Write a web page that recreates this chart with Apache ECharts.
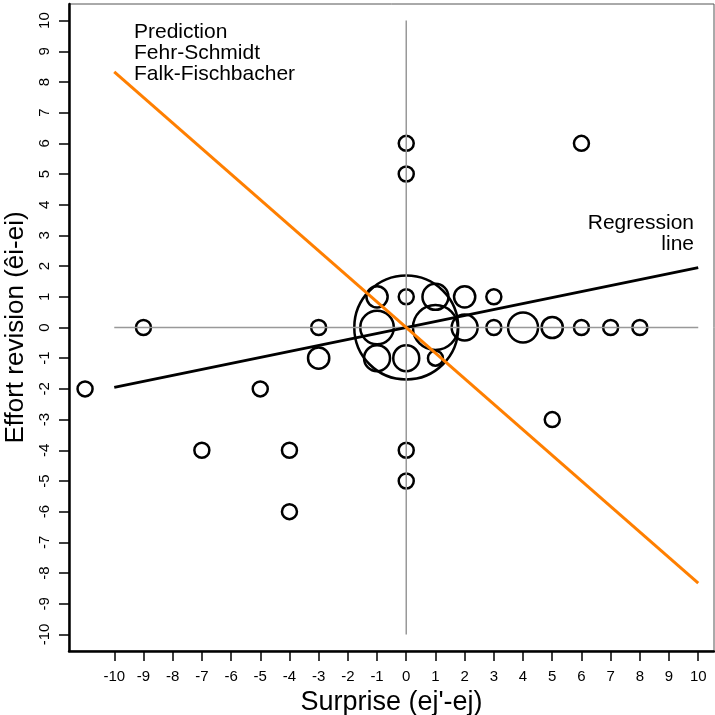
<!DOCTYPE html>
<html>
<head>
<meta charset="utf-8">
<script src="https://cdn.jsdelivr.net/npm/echarts@6/dist/echarts.min.js"></script>
<style>
  html, body { margin: 0; padding: 0; background: #fff; }
  #chartBox { width: 715px; height: 715px; }
</style>
</head>
<body>
<div id="chartBox"></div>
<script>
// observations: surprise (x), effort revision (y), number of cases at that point
const surprise = [0, 1, -1, 4, 1, 2, -1, 0, 2, 5, -1, -3,
  -11, -9, -7, -5, -4, -4, -3, 0, 0, 6, 5, 0, 0, 3, 3, 6, 7, 8, 0, 1];
const revision = [0, 0, 0, 0, 1, 0, -1, -1, 1, 0, 1, -1,
  -2, 0, -4, -2, -4, -6, 0, 6, 5, 6, -3, -4, -5, 1, 0, 0, 0, 0, 1, -1];
const counts = [48, 9, 5, 4, 3, 3, 3, 3, 2, 2, 2, 2,
  1, 1, 1, 1, 1, 1, 1, 1, 1, 1, 1, 1, 1, 1, 1, 1, 1, 1, 1, 1];

// reference lines
const predictionX = [-10, 10];
const predictionY = [8.33, -8.33];
const regressionX = [-10, 10];
const regressionY = [-1.95, 1.95];
const hLineX = [-10, 10];
const hLineY = [0, 0];
const vLineX = [0, 0];
const vLineY = [-10, 10];

const tickValues = [];
for (let i = -10; i <= 10; i++) tickValues.push(i);

const font = "'Liberation Sans', Arial, sans-serif";
const zip = (a, b) => a.map((v, i) => [v, b[i]]);

const chartDom = document.getElementById("chartBox");
const myChart = echarts.init(chartDom);

const option = {
  animation: false,
  textStyle: { fontFamily: font },
  grid: {
    left: 69, right: 1, top: 4, bottom: 64,
    outerBoundsMode: "none",
    containLabel: false,
    show: true, borderColor: "#555", borderWidth: 1
  },
  xAxis: {
    type: "value",
    min: -11.55, max: 10.54,
    name: "Surprise (ej'-ej)",
    nameLocation: "middle",
    nameGap: 32,
    nameTextStyle: { fontSize: 27, color: "#000", fontFamily: font },
    splitLine: { show: false },
    axisLine: { onZero: false, lineStyle: { color: "#000", width: 2.5 } },
    axisTick: { customValues: tickValues, length: 10, lineStyle: { color: "#000", width: 1.5 } },
    axisLabel: { customValues: tickValues, margin: 18, fontSize: 15, color: "#000", fontFamily: font }
  },
  yAxis: {
    type: "value",
    min: -10.54, max: 10.54,
    name: "Effort revision (êi-ei)",
    nameLocation: "middle",
    nameGap: 35,
    nameTextStyle: { fontSize: 26, color: "#000", fontFamily: font },
    splitLine: { show: false },
    axisLine: { onZero: false, lineStyle: { color: "#000", width: 2.5 } },
    axisTick: { customValues: tickValues, length: 10, lineStyle: { color: "#000", width: 1.5 } },
    axisLabel: { customValues: tickValues, rotate: 90, margin: 17, fontSize: 15, color: "#000", fontFamily: font }
  },
  graphic: [
    {
      type: "text", x: 134, y: 22,
      style: {
        text: "Prediction\nFehr-Schmidt\nFalk-Fischbacher",
        font: "21px " + font, lineHeight: 21, fill: "#000"
      }
    },
    {
      type: "text", x: 694, y: 213,
      style: {
        text: "Regression\nline", align: "right", textAlign: "right",
        font: "21px " + font, lineHeight: 21, fill: "#000"
      }
    }
  ],
  series: [
    {
      type: "line", data: zip(hLineX, hLineY), symbol: "none", silent: true,
      lineStyle: { color: "#999", width: 1.5 }
    },
    {
      type: "line", data: zip(vLineX, vLineY), symbol: "none", silent: true,
      lineStyle: { color: "#999", width: 1.5 }
    },
    {
      type: "scatter",
      data: surprise.map((x, i) => [x, revision[i], counts[i]]),
      symbolSize: (d) => 15 * Math.sqrt(d[2]),
      itemStyle: { color: "rgba(0,0,0,0)", borderColor: "#000", borderWidth: 2.5, opacity: 1 },
      silent: true
    },
    {
      type: "line", data: zip(regressionX, regressionY), symbol: "none", silent: true,
      lineStyle: { color: "#000", width: 3 }
    },
    {
      type: "line", data: zip(predictionX, predictionY), symbol: "none", silent: true,
      lineStyle: { color: "#ff7f00", width: 3 }
    }
  ]
};

option && myChart.setOption(option);
</script>
</body>
</html>
